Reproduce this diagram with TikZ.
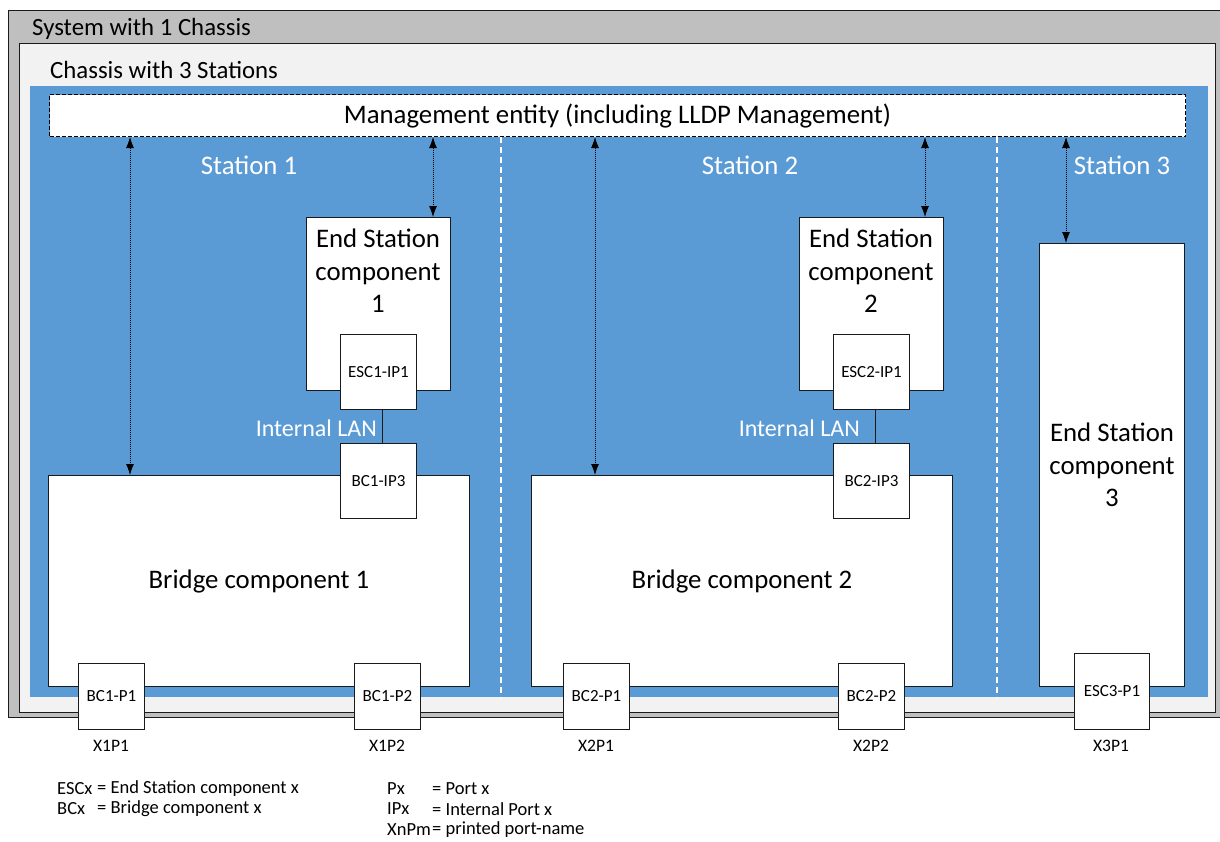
\documentclass[tikz,border=0pt]{standalone}
\usepackage{fontspec}
\setmainfont{Carlito}
\usetikzlibrary{arrows.meta}
\definecolor{sysgray}{HTML}{BFBFBF}
\definecolor{chassisgray}{HTML}{F2F2F2}
\definecolor{stationblue}{HTML}{5B9BD5}
\definecolor{edgecol}{HTML}{1A1A1A}

\tikzset{
  box/.style={draw=edgecol, line width=1pt, fill=white, inner sep=0pt, anchor=north west},
  portbox/.style={box, font=\fontsize{17}{20}\selectfont},
  bigtext/.style={font=\fontsize{26.8}{32.5}\selectfont, align=center, inner sep=0pt},
  framelabel/.style={font=\fontsize{24.8}{29}\selectfont, anchor=west, inner sep=0pt},
  stationlabel/.style={bigtext, text=white},
  lanlabel/.style={font=\fontsize{24}{28}\selectfont, text=white, inner sep=0pt},
  mgmtlink/.style={draw=black, line width=0.8pt, dash pattern=on 1pt off 1pt,
    {Latex[length=11pt,width=8pt]}-{Latex[length=11pt,width=8pt]}},
  divider/.style={draw=white, line width=2.5pt, dash pattern=on 6pt off 4pt},
  pname/.style={font=\fontsize{17.5}{20}\selectfont, inner sep=0pt},
  legend/.style={font=\fontsize{18.5}{21}\selectfont, anchor=west, inner sep=0pt},
}

\begin{document}
\begin{tikzpicture}[x=1pt,y=-1pt]
\useasboundingbox (0,0) rectangle (1220,841);
\fill[white] (0,0) rectangle (1220,841);

% enclosing frames
\node[box, fill=sysgray, minimum width=1225, minimum height=707] (system) at (8,10) {};
\node[box, fill=chassisgray, minimum width=1196, minimum height=669] (chassis) at (19,43) {};
\node[fill=stationblue, inner sep=0pt, anchor=north west, minimum width=1178, minimum height=611] (blue) at (30,86) {};
\node[framelabel] (systxt) at (32,29) {System with 1 Chassis};
\node[framelabel] (chtxt) at (50,70) {Chassis with 3 Stations};

% management entity
\node[box, draw=black, dash pattern=on 4pt off 2pt, minimum width=1136, minimum height=42] (mgmt) at (49,94) {};
\node[bigtext] (mgmttxt) at (mgmt.center) {Management entity (including LLDP Management)};

% station dividers
\coordinate (d1) at (501,0);
\coordinate (d2) at (997,0);
\draw[divider] (mgmt.south -| d1) -- (blue.south -| d1);
\draw[divider] (mgmt.south -| d2) -- (blue.south -| d2);

\node[stationlabel] (st1) at (249,165) {Station 1};
\node[stationlabel] (st2) at (750,165) {Station 2};
\node[stationlabel] (st3) at (1122,165) {Station 3};

% end station components
\node[box, minimum width=144, minimum height=173] (esc1) at (306,217) {};
\node[bigtext] (esc1txt) at (378,271) {End Station\\component\\1};
\node[box, minimum width=144, minimum height=173] (esc2) at (799,217) {};
\node[bigtext] (esc2txt) at (871,271) {End Station\\component\\2};
\node[box, minimum width=145, minimum height=443] (esc3) at (1039,243) {};
\node[bigtext] (esc3txt) at (1112,465) {End Station\\component\\3};

% bridge components
\node[box, minimum width=421, minimum height=211] (br1) at (48,475) {};
\node[bigtext] (br1txt) at (br1.center) {Bridge component 1};
\node[box, minimum width=421, minimum height=211] (br2) at (531,475) {};
\node[bigtext] (br2txt) at (br2.center) {Bridge component 2};

% internal ports
\node[portbox, minimum width=76, minimum height=75] (esc1ip) at (340,334) {ESC1-IP1};
\node[portbox, minimum width=76, minimum height=75] (bc1ip) at (340,443) {BC1-IP3};
\node[portbox, minimum width=76, minimum height=75] (esc2ip) at (833,334) {ESC2-IP1};
\node[portbox, minimum width=76, minimum height=75] (bc2ip) at (833,443) {BC2-IP3};

% internal LANs
\draw[draw=edgecol, line width=1pt] ([xshift=3.5pt]esc1ip.south) -- ([xshift=3.5pt]bc1ip.north);
\draw[draw=edgecol, line width=1pt] ([xshift=3.5pt]esc2ip.south) -- ([xshift=3.5pt]bc2ip.north);
\node[lanlabel, anchor=east] (lan1) at (377,428) {Internal LAN};
\node[lanlabel, anchor=east] (lan2) at (860,428) {Internal LAN};

% external ports
\node[portbox, minimum width=66, minimum height=66] (bc1p1) at (78,663) {BC1-P1};
\node[portbox, minimum width=66, minimum height=66] (bc1p2) at (354,663) {BC1-P2};
\node[portbox, minimum width=66, minimum height=66] (bc2p1) at (563,663) {BC2-P1};
\node[portbox, minimum width=66, minimum height=66] (bc2p2) at (838,663) {BC2-P2};
\node[portbox, minimum width=75, minimum height=76] (esc3p1) at (1074,653) {ESC3-P1};

\node[pname] (x1p1) at (111,746) {X1P1};
\node[pname] (x1p2) at (387,746) {X1P2};
\node[pname] (x2p1) at (596,746) {X2P1};
\node[pname] (x2p2) at (871,746) {X2P2};
\node[pname] (x3p1) at (1111,746) {X3P1};

% management access
\coordinate (a1) at (130,0);
\coordinate (a2) at (433,0);
\coordinate (a3) at (595,0);
\coordinate (a4) at (925,0);
\coordinate (a5) at (1066,0);
\draw[mgmtlink] (mgmt.south -| a1) -- (br1.north -| a1);
\draw[mgmtlink] (mgmt.south -| a2) -- (esc1.north -| a2);
\draw[mgmtlink] (mgmt.south -| a3) -- (br2.north -| a3);
\draw[mgmtlink] (mgmt.south -| a4) -- (esc2.north -| a4);
\draw[mgmtlink] (mgmt.south -| a5) -- (esc3.north -| a5);

% legend
\node[legend] (lg1a) at (57,789) {ESCx};
\node[legend] (lg1b) at (97,789) {= End Station component x};
\node[legend] (lg2a) at (57,809) {BCx};
\node[legend] (lg2b) at (97,809) {= Bridge component x};
\node[legend] (lg3a) at (387,789) {Px};
\node[legend] (lg3b) at (432,789) {= Port x};
\node[legend] (lg4a) at (387,809) {IPx};
\node[legend] (lg4b) at (432,809) {= Internal Port x};
\node[legend] (lg5a) at (387,830) {XnPm};
\node[legend] (lg5b) at (432,830) {= printed port-name};
\end{tikzpicture}
\end{document}
